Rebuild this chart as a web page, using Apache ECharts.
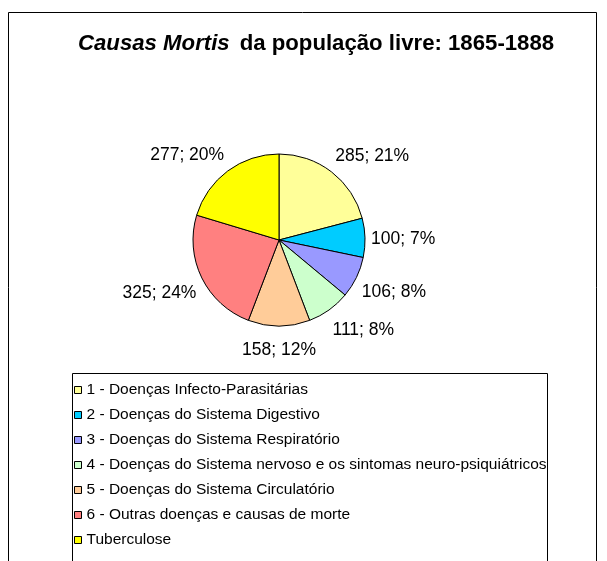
<!DOCTYPE html>
<html>
<head>
<meta charset="utf-8">
<script src="https://cdn.jsdelivr.net/npm/echarts@6/dist/echarts.min.js"></script>
<style>
html, body { margin:0; padding:0; background:#fff; }
#main { width:607px; height:561px; }
</style>
</head>
<body>
<div id="main"></div>
<script>
// dados
var categorias = [
	'1 - Doenças Infecto-Parasitárias',
	'2 - Doenças do Sistema Digestivo',
	'3 - Doenças do Sistema Respiratório',
	'4 - Doenças do Sistema nervoso e os sintomas neuro-psiquiátricos',
	'5 - Doenças do Sistema Circulatório',
	'6 - Outras doenças e causas de morte',
	'Tuberculose'
];
var valores = [285, 100, 106, 111, 158, 325, 277];
var percentuais = [21, 7, 8, 8, 12, 24, 20];
var cores = ['#FFFF99', '#00CCFF', '#9999FF', '#CCFFCC', '#FFCC99', '#FF8080', '#FFFF00'];

var CX = 279, CY = 240, R = 86 ;

// angulo medio de cada fatia (sentido horario a partir do topo)
function midAngle(idx)
{
	var total = 0, acc = 0 ;
	for( var i = 0 ; i < valores.length ; i++ ) total += valores[i] ;
	for( var j = 0 ; j < idx ; j++ ) acc += valores[j] ;
	acc += valores[idx] / 2 ;
	return (90 - acc / total * 360) * Math.PI / 180 ;
}

function initChart()
{
	var data = [] ;
	for( var i = 0 ; i < categorias.length ; i++ )
	{
		data.push( { value : valores[i], name : categorias[i], pct : percentuais[i],
			itemStyle : { color : cores[i] } } ) ;
	}

	var option = {
		animation : false,
		backgroundColor : '#fff',
		title : {
			text : '{i|Causas Mortis}  {b|da população livre: 1865-1888}',
			left : 73,
			top : 28,
			textStyle : {
				rich : {
					i : { fontFamily:'Liberation Sans', fontSize:22.2, fontWeight:'bold', fontStyle:'italic', color:'#000' },
					b : { fontFamily:'Liberation Sans', fontSize:22.2, fontWeight:'bold', color:'#000' }
				}
			}
		},
		legend : {
			orient : 'vertical',
			left : 74,
			top : 382,
			height : 300,
			data : categorias,
			icon : 'rect',
			itemWidth : 7,
			itemHeight : 7,
			itemGap : 9,
			padding : 0,
			textStyle : { fontFamily:'Liberation Sans', fontSize:15.5, color:'#000' },
			itemStyle : { borderColor:'#000', borderWidth:1 }
		},
		graphic : [
			{ type:'rect', shape:{ x:8.5, y:12.5, width:588, height:600 },
			  style:{ fill:null, stroke:'#000', lineWidth:1 }, silent:true },
			{ type:'rect', shape:{ x:72.5, y:373.5, width:475, height:220 },
			  style:{ fill:null, stroke:'#000', lineWidth:1 }, silent:true }
		],
		series : [
			{
				type : 'pie',
				center : [CX, CY],
				radius : R,
				startAngle : 90,
				clockwise : true,
				data : data,
				itemStyle : { borderColor:'#000', borderWidth:1 },
				label : {
					show : true,
					position : 'outside',
					fontFamily : 'Liberation Sans',
					fontSize : 17.5,
					color : '#000',
					formatter : function (p) { return p.value + '; ' + p.data.pct + '%'; }
				},
				labelLine : { show:false },
				labelLayout : function (p) {
					var a = midAngle(p.dataIndex) ;
					var c = Math.cos(a), s = Math.sin(a) ;
					var rr = R + 6 ;
					var dy = s > 0.2 ? -2 : 2 + 7 * s * s ;
					return {
						x : CX + rr * c,
						y : CY - rr * s + dy,
						align : c > 0.15 ? 'left' : (c < -0.15 ? 'right' : 'center'),
						verticalAlign : s > 0.2 ? 'bottom' : (s < -0.2 ? 'top' : 'middle')
					} ;
				},
				emphasis : { disabled:true }
			}
		]
	};

	var myChart = echarts.init( document.getElementById('main') );
	myChart.setOption( option );
}

initChart() ;
</script>
</body>
</html>
